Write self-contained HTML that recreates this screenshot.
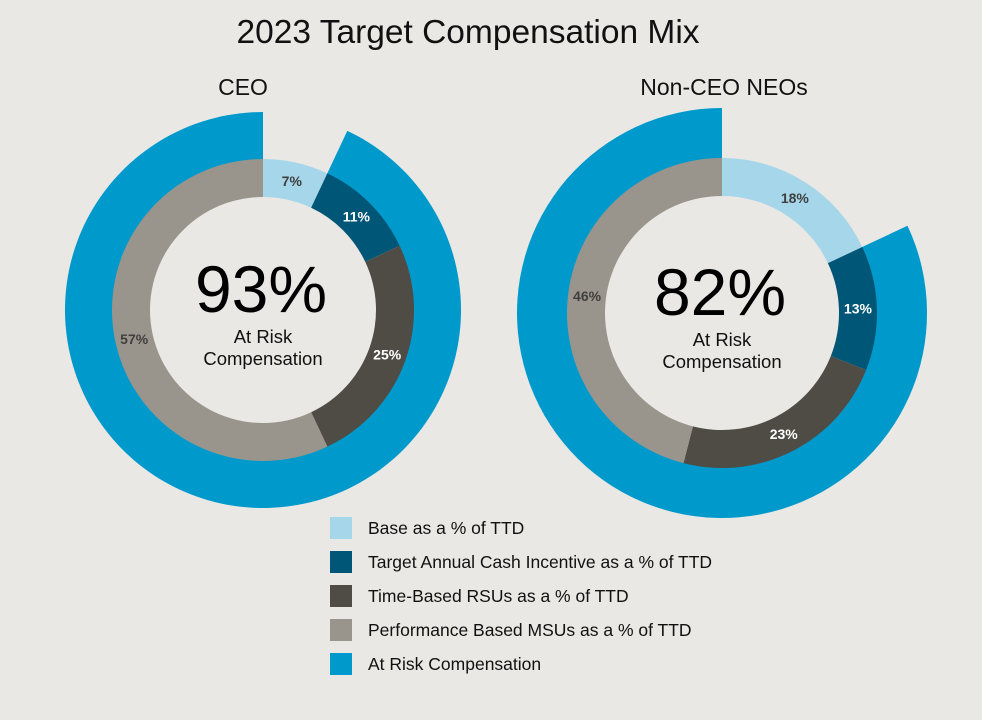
<!DOCTYPE html>
<html><head><meta charset="utf-8">
<style>
body{margin:0;background:#e9e8e4;font-family:"Liberation Sans",sans-serif;}
svg{display:block}
</style></head>
<body>
<svg id="chart" width="982" height="720">
<rect width="982" height="720" fill="#e9e8e4"/>
<text x="468" y="43" font-size="33.5" text-anchor="middle" fill="#111">2023 Target Compensation Mix</text>
</svg>
<script>
const categories=["Base as a % of TTD","Target Annual Cash Incentive as a % of TTD","Time-Based RSUs as a % of TTD","Performance Based MSUs as a % of TTD"];
const ceoValues=[7,11,25,57];
const neoValues=[18,13,23,46];
const atRiskValues=[93,82];
const panelTitles=["CEO","Non-CEO NEOs"];
const colors=["#a6d6ea","#005677","#4f4b45","#9a958c"];
const riskColor="#0099cc";
const labelColors=["#3f3f3f","#fff","#fff","#3f3f3f"];
const svg=document.getElementById('chart');
const NS="http://www.w3.org/2000/svg";
function mk(t,a){const e=document.createElementNS(NS,t);for(const k in a)e.setAttribute(k,a[k]);svg.appendChild(e);return e;}
function pt(cx,cy,r,p){const a=p/100*2*Math.PI;return [cx+r*Math.sin(a),cy-r*Math.cos(a)];}
function arc(cx,cy,r0,r1,p0,p1){const [a,b]=pt(cx,cy,r1,p0),[c,d]=pt(cx,cy,r1,p1),[e,f]=pt(cx,cy,r0,p1),[g,h]=pt(cx,cy,r0,p0);const l=(p1-p0)>50?1:0;
return `M${a},${b}A${r1},${r1} 0 ${l} 1 ${c},${d}L${e},${f}A${r0},${r0} 0 ${l} 0 ${g},${h}Z`;}
const panels=[{cx:263,cy:310,ri:113,ro:151,rb:198,vals:ceoValues,tx:243},{cx:722,cy:313,ri:117,ro:155,rb:205,vals:neoValues,tx:724}];
panels.forEach((p,i)=>{
 const t=mk('text',{x:p.tx,y:95,'font-size':23,'text-anchor':'middle',fill:'#111'});t.textContent=panelTitles[i];
 
 
 const b=mk('path',{d:arc(p.cx,p.cy,p.ro-1,p.rb,100-atRiskValues[i],99.999),fill:riskColor});
 
 
 let c=0;
 p.vals.forEach((v,j)=>{
  const s=mk('path',{d:arc(p.cx,p.cy,p.ri,p.ro,c,c+v-0.001),fill:colors[j]});
  
  
  const [lx,ly]=pt(p.cx,p.cy,(p.ri+p.ro)/2,c+v/2);
  const l=mk('text',{x:lx,y:ly+5,'font-size':14,'font-weight':'bold','text-anchor':'middle',fill:labelColors[j]});
  l.textContent=v+'%';
  
  
  c+=v;
 });
 const big=mk('text',{x:p.cx-2,y:p.cy+2,'font-size':66,'text-anchor':'middle',fill:'#000'});big.textContent=atRiskValues[i]+'%';
 
 
 const s1=mk('text',{x:p.cx,y:p.cy+33,'font-size':18.5,'text-anchor':'middle',fill:'#111'});s1.textContent='At Risk';
 
 
 const s2=mk('text',{x:p.cx,y:p.cy+55,'font-size':18.5,'text-anchor':'middle',fill:'#111'});s2.textContent='Compensation';
 
 
});
const legendItems=categories.concat(["At Risk Compensation"]);
const legendColors=colors.concat([riskColor]);
legendItems.forEach((n,i)=>{
 const y=517+i*34;
 const r=mk('rect',{x:330,y:y,width:22,height:22,fill:legendColors[i]});
 
 
 const t=mk('text',{x:368,y:y+17,'font-size':17.5,fill:'#111'});t.textContent=n;
 
 
});
</script>
</body></html>
